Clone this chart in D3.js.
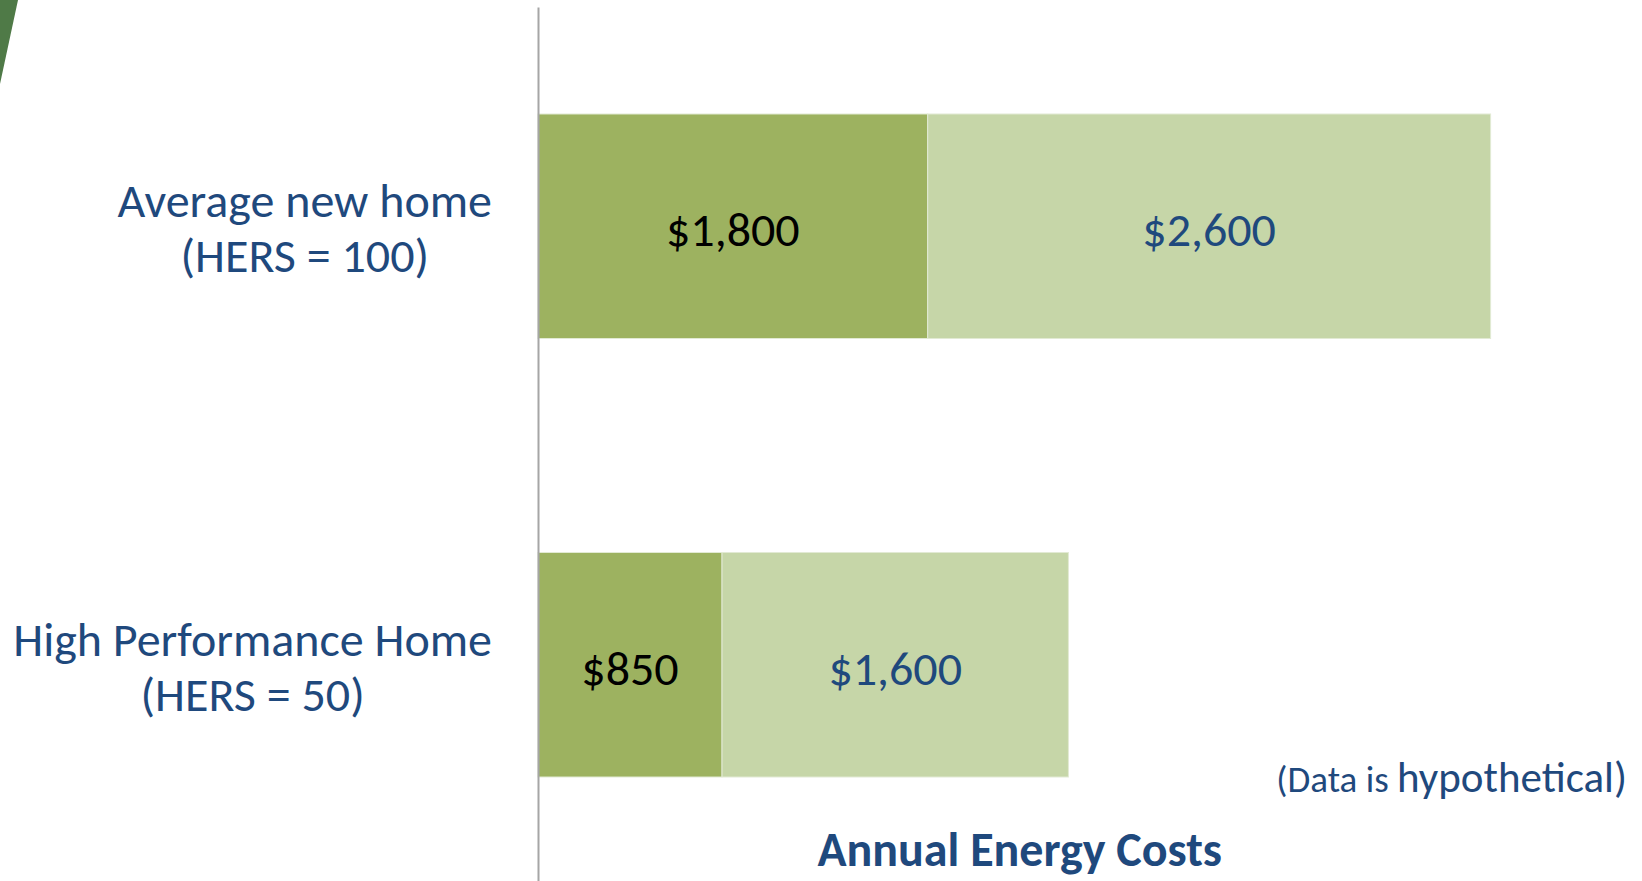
<!DOCTYPE html>
<html><head><meta charset="utf-8">
<script src="https://cdn.jsdelivr.net/npm/d3@7"></script>
<style>html,body{margin:0;padding:0;background:#fff;overflow:hidden}</style>
</head><body><svg id="chart" width="1642" height="881"></svg>
<script>
// ---- data ----
const categories = ["Average new home", "High Performance Home"];
const categoryLines = [["Average new home", "(HERS = 100)"], ["High Performance Home", "(HERS = 50)"]];
const seriesKeys = ["dark", "light"];
const darkValues = [1800, 850];
const lightValues = [2600, 1600];
const axisTitle = "Annual Energy Costs";
const noteParts = ["(Data is ", "hypothetical)"];

// ---- setup ----
const W = 1642, H = 881;
const svg = d3.select("#chart");
const FONT = "Carlito, Lato, 'Open Sans', sans-serif";
const BLUE = "#1f497d";
const colors = {dark: "#9db260", light: "#c6d6a8"};

const rows = categories.map((c, i) => ({cat: c, dark: darkValues[i], light: lightValues[i]}));
const stacked = d3.stack().keys(seriesKeys)(rows);

const x = d3.scaleLinear().domain([0, 4450]).range([538, 538 + 4450 * 0.2165]);
const y = d3.scaleBand().domain(categories).range([7, 884]).paddingInner(0.488).paddingOuter(0.244);

// decoration wedge top-left
svg.append("path").attr("d", "M0,0 L18,0 L0,84 Z").attr("fill", "#4f7a47");

// bars
const layers = svg.append("g").selectAll("g").data(stacked).join("g")
  .attr("fill", d => colors[d.key]);
layers.selectAll("rect").data(d => d.map(p => ({p, key: d.key}))).join("rect")
  .attr("x", d => x(d.p[0]))
  .attr("y", d => y(d.p.data.cat))
  .attr("width", d => x(d.p[1]) - x(d.p[0]))
  .attr("height", y.bandwidth())
  .attr("stroke", "#e2ead4").attr("stroke-width", 1);

// value labels
const fmt = d3.format("$,");
layers.selectAll("text").data(d => d.map(p => ({p, key: d.key}))).join("text")
  .attr("x", d => (x(d.p[0]) + x(d.p[1])) / 2)
  .attr("y", d => y(d.p.data.cat) + y.bandwidth() / 2 + 20)
  .attr("text-anchor", "middle")
  .attr("font-family", FONT).attr("font-size", 48)
  .attr("fill", d => d.key === "dark" ? "#000" : BLUE)
  .text(d => fmt(d.p[1] - d.p[0]));

// axis
const ax = svg.append("g").attr("transform", `translate(${x(0)},0)`)
  .call(d3.axisLeft(y).tickSize(0).tickSizeOuter(0).tickFormat(""));
ax.select(".domain").attr("stroke", "#a6a6a6").attr("stroke-width", 2);

// category labels (multi-line, centred block with right edge at fixed gap from axis)
categories.forEach((c, i) => {
  const t = svg.append("text").attr("font-family", FONT).attr("font-size", 48)
    .attr("fill", BLUE).attr("text-anchor", "middle");
  const cy = y(c) + y.bandwidth() / 2;
  const spans = categoryLines[i].map((line, k) =>
    t.append("tspan").attr("y", cy - 9 + k * 55).text(line));
  const maxW = d3.max(spans, s => s.node().getComputedTextLength());
  const cx = x(0) - 46 - maxW / 2;
  spans.forEach(s => s.attr("x", cx));
});

// note
const note = svg.append("text").attr("x", 1627).attr("y", 792).attr("text-anchor", "end")
  .attr("font-family", FONT).attr("fill", BLUE);
note.append("tspan").attr("font-size", 37).text(noteParts[0]);
note.append("tspan").attr("font-size", 43).text(noteParts[1]);

// axis title
svg.append("text")
  .attr("x", (x.range()[0] + x.range()[1]) / 2).attr("y", 866)
  .attr("text-anchor", "middle").attr("font-family", FONT)
  .attr("font-weight", "bold").attr("font-size", 48).attr("fill", BLUE)
  .text(axisTitle);
</script></body></html>
